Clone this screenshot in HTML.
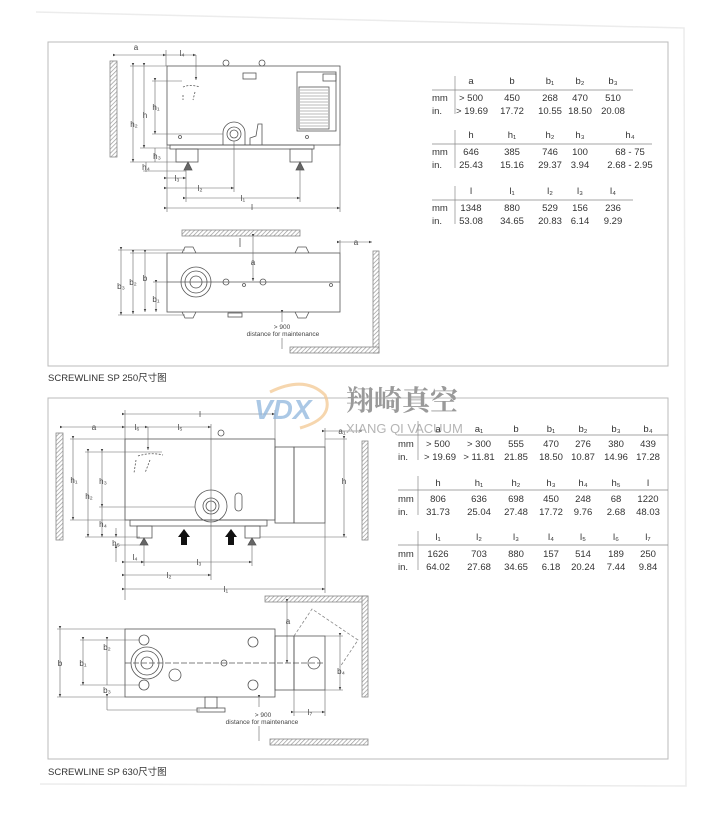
<!DOCTYPE html>
<html><head><meta charset="utf-8"><style>
html,body{margin:0;padding:0;background:#fff;}
svg{display:block;}
text{font-family:"Liberation Sans",sans-serif;fill:#333;}
.t{font-size:9.5px;text-anchor:middle;}
.l{font-size:9.5px;}
.d{font-size:8px;text-anchor:middle;fill:#444;}
</style></head><body>
<svg width="720" height="831" viewBox="0 0 720 831" xmlns="http://www.w3.org/2000/svg">
<defs>
<pattern id="h" width="3" height="3" patternUnits="userSpaceOnUse" patternTransform="rotate(45)">
<rect width="3" height="3" fill="#fff"/><line x1="0" y1="0" x2="0" y2="3" stroke="#999" stroke-width="1.4"/></pattern>
<marker id="ar" markerWidth="5" markerHeight="5" refX="5" refY="2.5" orient="auto"><path d="M0,0.5 L5,2.5 L0,4.5z" fill="#444"/></marker>
</defs>
<!-- page shadow -->
<path d="M36,12 L684,28 L686,786 L40,784" fill="none" stroke="#ececec" stroke-width="1.5"/>
<!-- frames -->
<rect x="48" y="42" width="620" height="324" fill="#fff" stroke="#bbb" stroke-width="1"/>
<text x="48" y="381" style="font-size:9.5px;font-family:'Liberation Sans','Noto Sans CJK SC',sans-serif">SCREWLINE SP 250尺寸图</text>
<rect x="48" y="398" width="620" height="361" fill="none" stroke="#bbb" stroke-width="1"/>
<text x="48" y="775" style="font-size:9.5px;font-family:'Liberation Sans','Noto Sans CJK SC',sans-serif">SCREWLINE SP 630尺寸图</text>

<g stroke="#555" stroke-width="0.8" fill="none">
<!-- ===== Drawing 1 side ===== -->
<rect x="110" y="61" width="7" height="96" fill="url(#h)" stroke="#888"/>
<rect x="167" y="66" width="173" height="79" fill="#fff"/>
<circle cx="226" cy="63" r="3"/><circle cx="262" cy="63" r="3"/>
<rect x="243" y="73" width="13" height="6"/>
<rect x="297" y="72" width="39" height="59"/>
<rect x="299" y="87" width="30" height="42"/>
<g stroke="#777" stroke-width="0.6">
<line x1="300" y1="90" x2="328" y2="90"/><line x1="300" y1="93" x2="328" y2="93"/><line x1="300" y1="96" x2="328" y2="96"/><line x1="300" y1="99" x2="328" y2="99"/><line x1="300" y1="102" x2="328" y2="102"/><line x1="300" y1="105" x2="328" y2="105"/><line x1="300" y1="108" x2="328" y2="108"/><line x1="300" y1="111" x2="328" y2="111"/><line x1="300" y1="114" x2="328" y2="114"/><line x1="300" y1="117" x2="328" y2="117"/><line x1="300" y1="120" x2="328" y2="120"/><line x1="300" y1="123" x2="328" y2="123"/><line x1="300" y1="126" x2="328" y2="126"/></g>
<rect x="323" y="74" width="13" height="7"/>
<path d="M223,145 L223,133 A11,11 0 0 1 245,133 L245,145"/>
<circle cx="234" cy="134" r="7"/><circle cx="234" cy="134" r="4"/>
<path d="M250,145 L250,138 L256,136 L258,124 L262,124 L262,145" />
<circle cx="180" cy="137" r="1.5"/><circle cx="307" cy="137" r="1.5"/>
<rect x="170" y="145" width="144" height="4"/>
<rect x="176" y="149" width="22" height="13"/><rect x="290" y="149" width="22" height="13"/>
<path d="M184,170 L192,170 L188,162z" fill="#666"/><path d="M296,170 L304,170 L300,162z" fill="#666"/>
<path d="M183,87 Q190,84 200,87" stroke-dasharray="2,1.5"/><path d="M183,95 L183,100 M195,92 L193,100" stroke-dasharray="2,1.5"/>
<g stroke="#666" stroke-width="0.6">
<line x1="116" y1="55" x2="166" y2="55" marker-start="url(#ar)" marker-end="url(#ar)"/>
<line x1="166" y1="55" x2="196" y2="55" marker-end="url(#ar)"/>
<line x1="196" y1="55" x2="196" y2="80" marker-end="url(#ar)"/>
<line x1="166" y1="50" x2="166" y2="66"/>
<line x1="133" y1="66" x2="133" y2="162" marker-start="url(#ar)" marker-end="url(#ar)"/>
<line x1="144" y1="66" x2="144" y2="148" marker-start="url(#ar)" marker-end="url(#ar)"/>
<line x1="155" y1="81" x2="155" y2="134" marker-start="url(#ar)" marker-end="url(#ar)"/>
<line x1="155" y1="148" x2="155" y2="162"/><line x1="146" y1="162" x2="146" y2="172"/>
<line x1="130" y1="66" x2="167" y2="66"/><line x1="130" y1="162" x2="190" y2="162"/><line x1="140" y1="148" x2="170" y2="148"/>
<line x1="152" y1="81" x2="182" y2="81"/><line x1="152" y1="134" x2="223" y2="134"/><line x1="143" y1="171" x2="186" y2="171"/>
<line x1="167" y1="145" x2="167" y2="212"/><line x1="340" y1="145" x2="340" y2="212"/>
<line x1="186" y1="170" x2="186" y2="202"/><line x1="234" y1="141" x2="234" y2="192"/><line x1="300" y1="170" x2="300" y2="202"/>
<line x1="167" y1="178" x2="186" y2="178" marker-start="url(#ar)" marker-end="url(#ar)"/>
<line x1="167" y1="188" x2="234" y2="188" marker-start="url(#ar)" marker-end="url(#ar)"/>
<line x1="186" y1="198" x2="300" y2="198" marker-start="url(#ar)" marker-end="url(#ar)"/>
<line x1="167" y1="208" x2="340" y2="208" marker-start="url(#ar)" marker-end="url(#ar)"/>
</g>

<!-- ===== Drawing 1 top ===== -->
<rect x="182" y="230" width="118" height="6" fill="url(#h)" stroke="#888"/>
<rect x="373" y="251" width="6" height="102" fill="url(#h)" stroke="#888"/>
<rect x="290" y="347" width="89" height="6" fill="url(#h)" stroke="#888"/>
<rect x="167" y="253" width="173" height="59" fill="#fff"/>
<line x1="167" y1="282" x2="340" y2="282"/>
<circle cx="196" cy="282" r="15"/><circle cx="196" cy="282" r="11"/><circle cx="196" cy="282" r="6"/>
<circle cx="226" cy="282" r="3"/><circle cx="263" cy="282" r="3"/><circle cx="244" cy="285" r="1.5"/><circle cx="331" cy="285" r="1.5"/>
<path d="M182,253 l3,-6 h8 l3,6 M295,253 l3,-6 h8 l3,6 M182,312 l3,6 h8 l3,-6 M295,312 l3,6 h8 l3,-6"/>
<rect x="228" y="313" width="14" height="4"/><line x1="240" y1="247" x2="240" y2="238"/>
<g stroke="#666" stroke-width="0.6">
<line x1="121" y1="250" x2="121" y2="315" marker-start="url(#ar)" marker-end="url(#ar)"/>
<line x1="133" y1="253" x2="133" y2="314" marker-start="url(#ar)" marker-end="url(#ar)"/>
<line x1="145" y1="253" x2="145" y2="312" marker-start="url(#ar)" marker-end="url(#ar)"/>
<line x1="156" y1="283" x2="156" y2="312" marker-start="url(#ar)" marker-end="url(#ar)"/>
<line x1="118" y1="250" x2="185" y2="250"/><line x1="118" y1="315" x2="185" y2="315"/><line x1="130" y1="253" x2="167" y2="253"/><line x1="153" y1="282" x2="167" y2="282"/>
<line x1="253" y1="237" x2="253" y2="281" marker-start="url(#ar)" marker-end="url(#ar)"/>
<line x1="340" y1="242" x2="372" y2="242" marker-start="url(#ar)" marker-end="url(#ar)"/>
<line x1="340" y1="240" x2="340" y2="253"/>
<line x1="282" y1="313" x2="282" y2="322" marker-start="url(#ar)"/><line x1="282" y1="338" x2="282" y2="349"/>
</g>

<!-- ===== Drawing 2 side ===== -->
<rect x="56" y="433" width="7" height="107" fill="url(#h)" stroke="#888"/>
<rect x="362" y="441" width="6" height="99" fill="url(#h)" stroke="#888"/>
<rect x="125" y="439" width="150" height="81" fill="#fff"/>
<rect x="275" y="447" width="19" height="76"/><rect x="294" y="447" width="31" height="76"/>
<rect x="130" y="520" width="137" height="6"/>
<rect x="137" y="526" width="15" height="12"/><rect x="245" y="526" width="15" height="12"/>
<path d="M140,545 h8 l-4,-7z M248,545 h8 l-4,-7z" fill="#666"/>
<circle cx="221" cy="433" r="3"/>
<circle cx="211" cy="506" r="16"/><circle cx="211" cy="506" r="8"/><circle cx="211" cy="506" r="5"/>
<rect x="235" y="493" width="7" height="18" rx="3.5"/>
<path d="M138,456 Q150,452 163,455" stroke-dasharray="2,1.5"/><path d="M136,460 L134,473 M150,460 L145,473" stroke-dasharray="2,1.5"/>
<path d="M181,545 v-8 h-3 l6,-8 l6,8 h-3 v8z M228,545 v-8 h-3 l6,-8 l6,8 h-3 v8z" fill="#111" stroke="none"/>
<g stroke="#666" stroke-width="0.6">
<line x1="125" y1="414" x2="275" y2="414" marker-start="url(#ar)" marker-end="url(#ar)"/>
<line x1="63" y1="427" x2="125" y2="427" marker-start="url(#ar)" marker-end="url(#ar)"/>
<line x1="125" y1="427" x2="148" y2="427" marker-end="url(#ar)"/>
<line x1="148" y1="427" x2="211" y2="427" marker-end="url(#ar)"/>
<line x1="148" y1="427" x2="148" y2="450" marker-end="url(#ar)"/>
<line x1="125" y1="410" x2="125" y2="600"/><line x1="275" y1="410" x2="275" y2="447"/><line x1="211" y1="424" x2="211" y2="580"/>
<line x1="325" y1="431" x2="362" y2="431" marker-start="url(#ar)" marker-end="url(#ar)"/><line x1="325" y1="428" x2="325" y2="447"/>
<line x1="73" y1="439" x2="73" y2="520" marker-start="url(#ar)" marker-end="url(#ar)"/>
<line x1="88" y1="452" x2="88" y2="537" marker-start="url(#ar)" marker-end="url(#ar)"/>
<line x1="102" y1="452" x2="102" y2="507" marker-start="url(#ar)" marker-end="url(#ar)"/>
<line x1="102" y1="507" x2="102" y2="537" marker-end="url(#ar)"/>
<line x1="116" y1="528" x2="116" y2="537" marker-end="url(#ar)"/><line x1="116" y1="562" x2="116" y2="545" marker-end="url(#ar)"/>
<line x1="70" y1="439" x2="125" y2="439"/><line x1="70" y1="520" x2="130" y2="520"/><line x1="85" y1="452" x2="162" y2="452"/>
<line x1="99" y1="507" x2="195" y2="507"/><line x1="85" y1="537" x2="140" y2="537"/><line x1="113" y1="545" x2="140" y2="545"/>
<line x1="344" y1="439" x2="344" y2="537" marker-start="url(#ar)" marker-end="url(#ar)"/>
<line x1="325" y1="439" x2="347" y2="439"/><line x1="260" y1="537" x2="347" y2="537"/>
<line x1="125" y1="562" x2="144" y2="562" marker-start="url(#ar)" marker-end="url(#ar)"/>
<line x1="144" y1="562" x2="252" y2="562" marker-start="url(#ar)" marker-end="url(#ar)"/>
<line x1="144" y1="545" x2="144" y2="566"/><line x1="252" y1="545" x2="252" y2="566"/>
<line x1="125" y1="575" x2="211" y2="575" marker-start="url(#ar)" marker-end="url(#ar)"/>
<line x1="125" y1="589" x2="325" y2="589" marker-start="url(#ar)" marker-end="url(#ar)"/><line x1="325" y1="523" x2="325" y2="593"/>
</g>

<!-- ===== Drawing 2 top ===== -->
<rect x="265" y="596" width="103" height="6" fill="url(#h)" stroke="#888"/>
<rect x="362" y="596" width="6" height="101" fill="url(#h)" stroke="#888"/>
<rect x="270" y="739" width="98" height="6" fill="url(#h)" stroke="#888"/>
<rect x="125" y="629" width="150" height="68" fill="#fff"/>
<rect x="275" y="636" width="19" height="54"/><rect x="294" y="636" width="31" height="54"/>
<path d="M294,636 L312,609 L358,640 L340,667" stroke-dasharray="3,2" stroke="#888"/>
<line x1="125" y1="663" x2="325" y2="663" stroke-dasharray="6,2"/>
<circle cx="147" cy="663" r="16"/><circle cx="147" cy="663" r="12"/><circle cx="147" cy="663" r="6"/>
<circle cx="144" cy="640" r="5"/><circle cx="144" cy="685" r="5"/><circle cx="175" cy="675" r="6"/>
<circle cx="253" cy="642" r="5"/><circle cx="253" cy="685" r="5"/><circle cx="224" cy="663" r="3"/><circle cx="314" cy="663" r="6"/>
<rect x="205" y="697" width="12" height="11"/><rect x="197" y="708" width="28" height="4"/>
<g stroke="#666" stroke-width="0.6">
<line x1="60" y1="629" x2="60" y2="697" marker-start="url(#ar)" marker-end="url(#ar)"/>
<line x1="83" y1="640" x2="83" y2="685" marker-start="url(#ar)" marker-end="url(#ar)"/>
<line x1="107" y1="640" x2="107" y2="663" marker-start="url(#ar)"/>
<line x1="107" y1="663" x2="107" y2="685"/><line x1="107" y1="697" x2="107" y2="710" marker-start="url(#ar)"/>
<line x1="57" y1="629" x2="125" y2="629"/><line x1="57" y1="697" x2="125" y2="697"/><line x1="80" y1="640" x2="140" y2="640"/><line x1="80" y1="685" x2="140" y2="685"/><line x1="107" y1="710" x2="200" y2="710"/>
<line x1="287" y1="602" x2="287" y2="663" marker-start="url(#ar)" marker-end="url(#ar)"/>
<line x1="340" y1="636" x2="340" y2="690" marker-start="url(#ar)" marker-end="url(#ar)"/>
<line x1="325" y1="636" x2="343" y2="636"/><line x1="325" y1="690" x2="343" y2="690"/>
<line x1="294" y1="712" x2="325" y2="712" marker-start="url(#ar)" marker-end="url(#ar)"/>
<line x1="294" y1="690" x2="294" y2="716"/><line x1="325" y1="690" x2="325" y2="716"/>
<line x1="259" y1="698" x2="259" y2="707" marker-start="url(#ar)"/><line x1="259" y1="726" x2="259" y2="741"/>
</g>
</g>

<text class="d" x="136" y="50">a</text><text class="d" x="182" y="56">l₄</text>
<text class="d" x="134" y="127">h₂</text><text class="d" x="145" y="118">h</text><text class="d" x="156" y="110">h₁</text>
<text class="d" x="157" y="159">h₃</text><text class="d" x="146" y="170">h₄</text>
<text class="d" x="177" y="181">l₃</text><text class="d" x="200" y="191">l₂</text><text class="d" x="243" y="201">l₁</text><text class="d" x="252" y="210">l</text>
<text class="d" x="121" y="289">b₃</text><text class="d" x="133" y="285">b₂</text><text class="d" x="145" y="281">b</text><text class="d" x="156" y="302">b₁</text>
<text class="d" x="253" y="265">a</text><text class="d" x="356" y="245">a</text>
<text class="d" x="282" y="329" style="font-size:6.5px">&gt; 900</text><text class="d" x="283" y="336" style="font-size:6.5px">distance for maintenance</text>
<text class="d" x="200" y="417">l</text><text class="d" x="94" y="430">a</text><text class="d" x="137" y="430">l₆</text><text class="d" x="180" y="430">l₅</text>
<text class="d" x="342" y="434">a₁</text>
<text class="d" x="74" y="483">h₁</text><text class="d" x="89" y="499">h₂</text><text class="d" x="103" y="484">h₃</text><text class="d" x="103" y="527">h₄</text><text class="d" x="116" y="546">h₅</text>
<text class="d" x="344" y="484">h</text>
<text class="d" x="135" y="560">l₄</text><text class="d" x="199" y="565">l₃</text><text class="d" x="169" y="578">l₂</text><text class="d" x="226" y="592">l₁</text>
<text class="d" x="60" y="666">b</text><text class="d" x="83" y="666">b₁</text><text class="d" x="107" y="650">b₂</text><text class="d" x="107" y="693">b₃</text>
<text class="d" x="288" y="624">a</text><text class="d" x="341" y="674">b₄</text><text class="d" x="310" y="715">l₇</text>
<text class="d" x="263" y="717" style="font-size:6.5px">&gt; 900</text><text class="d" x="262" y="724" style="font-size:6.5px">distance for maintenance</text>

<g opacity="0.75">
<path d="M270,392 Q305,375 325,395 Q335,418 300,428" fill="none" stroke="#f3c994" stroke-width="3"/>
<text x="254" y="419" style="font-size:28px;font-weight:bold;font-style:italic;fill:#8fb6dd">VDX</text>
</g>
<text x="346" y="410" style="font-size:28px;font-weight:bold;fill:#9a9a9a;font-family:'Noto Serif CJK SC','Noto Sans CJK SC',serif">翔崎真空</text>
<text x="346" y="433" style="font-size:13px;fill:#b5b5b5">XIANG QI VACUUM</text>

<g stroke="#888" stroke-width="0.7">
<line x1="432" y1="90" x2="633" y2="90"/><line x1="455" y1="76" x2="455" y2="114"/>
<line x1="432" y1="144" x2="652" y2="144"/><line x1="455" y1="130" x2="455" y2="168"/>
<line x1="432" y1="200" x2="633" y2="200"/><line x1="455" y1="186" x2="455" y2="224"/>
<line x1="398" y1="435" x2="668" y2="435"/><line x1="418" y1="421" x2="418" y2="460"/>
<line x1="398" y1="490" x2="668" y2="490"/><line x1="418" y1="476" x2="418" y2="515"/>
<line x1="398" y1="545" x2="668" y2="545"/><line x1="418" y1="531" x2="418" y2="570"/>
</g>
<g>
<text class="t" x="471" y="84">a</text><text class="t" x="512" y="84">b</text><text class="t" x="550" y="84">b₁</text><text class="t" x="580" y="84">b₂</text><text class="t" x="613" y="84">b₃</text>
<text class="l" x="432" y="101">mm</text><text class="t" x="471" y="101">&gt; 500</text><text class="t" x="512" y="101">450</text><text class="t" x="550" y="101">268</text><text class="t" x="580" y="101">470</text><text class="t" x="613" y="101">510</text>
<text class="l" x="432" y="114">in.</text><text class="t" x="472" y="114">&gt; 19.69</text><text class="t" x="512" y="114">17.72</text><text class="t" x="550" y="114">10.55</text><text class="t" x="580" y="114">18.50</text><text class="t" x="613" y="114">20.08</text>
<text class="t" x="471" y="138">h</text><text class="t" x="512" y="138">h₁</text><text class="t" x="550" y="138">h₂</text><text class="t" x="580" y="138">h₃</text><text class="t" x="630" y="138">h₄</text>
<text class="l" x="432" y="155">mm</text><text class="t" x="471" y="155">646</text><text class="t" x="512" y="155">385</text><text class="t" x="550" y="155">746</text><text class="t" x="580" y="155">100</text><text class="t" x="630" y="155">68 - 75</text>
<text class="l" x="432" y="168">in.</text><text class="t" x="471" y="168">25.43</text><text class="t" x="512" y="168">15.16</text><text class="t" x="550" y="168">29.37</text><text class="t" x="580" y="168">3.94</text><text class="t" x="630" y="168">2.68 - 2.95</text>
<text class="t" x="471" y="194">l</text><text class="t" x="512" y="194">l₁</text><text class="t" x="550" y="194">l₂</text><text class="t" x="580" y="194">l₃</text><text class="t" x="613" y="194">l₄</text>
<text class="l" x="432" y="211">mm</text><text class="t" x="471" y="211">1348</text><text class="t" x="512" y="211">880</text><text class="t" x="550" y="211">529</text><text class="t" x="580" y="211">156</text><text class="t" x="613" y="211">236</text>
<text class="l" x="432" y="224">in.</text><text class="t" x="471" y="224">53.08</text><text class="t" x="512" y="224">34.65</text><text class="t" x="550" y="224">20.83</text><text class="t" x="580" y="224">6.14</text><text class="t" x="613" y="224">9.29</text>

<text class="t" x="438" y="432">a</text><text class="t" x="479" y="432">a₁</text><text class="t" x="516" y="432">b</text><text class="t" x="551" y="432">b₁</text><text class="t" x="583" y="432">b₂</text><text class="t" x="616" y="432">b₃</text><text class="t" x="648" y="432">b₄</text>
<text class="l" x="398" y="447">mm</text><text class="t" x="438" y="447">&gt; 500</text><text class="t" x="479" y="447">&gt; 300</text><text class="t" x="516" y="447">555</text><text class="t" x="551" y="447">470</text><text class="t" x="583" y="447">276</text><text class="t" x="616" y="447">380</text><text class="t" x="648" y="447">439</text>
<text class="l" x="398" y="460">in.</text><text class="t" x="440" y="460">&gt; 19.69</text><text class="t" x="479" y="460">&gt; 11.81</text><text class="t" x="516" y="460">21.85</text><text class="t" x="551" y="460">18.50</text><text class="t" x="583" y="460">10.87</text><text class="t" x="616" y="460">14.96</text><text class="t" x="648" y="460">17.28</text>
<text class="t" x="438" y="486">h</text><text class="t" x="479" y="486">h₁</text><text class="t" x="516" y="486">h₂</text><text class="t" x="551" y="486">h₃</text><text class="t" x="583" y="486">h₄</text><text class="t" x="616" y="486">h₅</text><text class="t" x="648" y="486">l</text>
<text class="l" x="398" y="502">mm</text><text class="t" x="438" y="502">806</text><text class="t" x="479" y="502">636</text><text class="t" x="516" y="502">698</text><text class="t" x="551" y="502">450</text><text class="t" x="583" y="502">248</text><text class="t" x="616" y="502">68</text><text class="t" x="648" y="502">1220</text>
<text class="l" x="398" y="515">in.</text><text class="t" x="438" y="515">31.73</text><text class="t" x="479" y="515">25.04</text><text class="t" x="516" y="515">27.48</text><text class="t" x="551" y="515">17.72</text><text class="t" x="583" y="515">9.76</text><text class="t" x="616" y="515">2.68</text><text class="t" x="648" y="515">48.03</text>
<text class="t" x="438" y="540">l₁</text><text class="t" x="479" y="540">l₂</text><text class="t" x="516" y="540">l₃</text><text class="t" x="551" y="540">l₄</text><text class="t" x="583" y="540">l₅</text><text class="t" x="616" y="540">l₆</text><text class="t" x="648" y="540">l₇</text>
<text class="l" x="398" y="557">mm</text><text class="t" x="438" y="557">1626</text><text class="t" x="479" y="557">703</text><text class="t" x="516" y="557">880</text><text class="t" x="551" y="557">157</text><text class="t" x="583" y="557">514</text><text class="t" x="616" y="557">189</text><text class="t" x="648" y="557">250</text>
<text class="l" x="398" y="570">in.</text><text class="t" x="438" y="570">64.02</text><text class="t" x="479" y="570">27.68</text><text class="t" x="516" y="570">34.65</text><text class="t" x="551" y="570">6.18</text><text class="t" x="583" y="570">20.24</text><text class="t" x="616" y="570">7.44</text><text class="t" x="648" y="570">9.84</text>
</g>
</svg>
</body></html>
